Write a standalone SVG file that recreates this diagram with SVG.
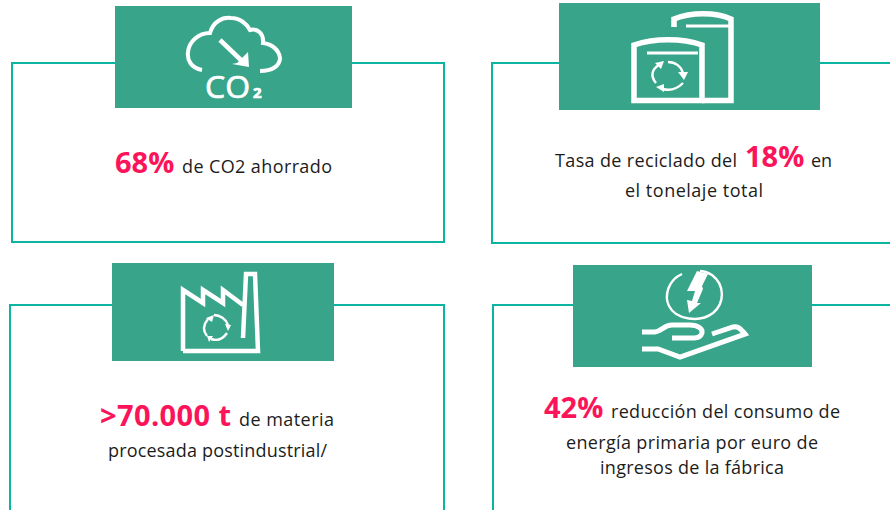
<svg xmlns="http://www.w3.org/2000/svg" width="890" height="510" viewBox="0 0 890 510">
<style>
.card{fill:none;stroke:#0cb5a2;stroke-width:2}
.head{fill:#38a58a}
.ic{fill:none;stroke:#fff;stroke-width:4.5;stroke-linejoin:miter}
.arc{fill:none;stroke:#fff;stroke-width:2.4}
.fine{fill:none;stroke:#fff;stroke-width:2.4}
.fw{fill:#fff}
text{font-family:"Open Sans","Liberation Sans",sans-serif;fill:#1c1c1c}
.t{font-size:18px}
.b{font-size:29px;font-weight:700;fill:#fb1459}
.w{fill:#fff;stroke:#fff;stroke-width:.7}
</style>
<rect width="890" height="510" fill="#fff"/>
<g id="connectors">
<path class="card" d="M115 63H12V242H444V63H352"/>
<path class="card" d="M559 63H492V243H890M820 63H890"/>
<path class="card" d="M112 305H10V510M444 510V305H334"/>
<path class="card" d="M573 305H493V510M812 305H890"/>
</g>
<g id="node-co2">
<rect class="head" x="115" y="6" width="237" height="102"/>
<path class="ic" style="stroke-width:4" d="M202 70C191 68 187 60 188 52C189 42 198 33 210 33C213 22 222 17 231 18C240 18 247 24 250 30C258 28 264 34 263 43C272 44 279 50 280 58C280 66 272 71 260 71"/>
<path class="ic" d="M220 40L243 62"/>
<path class="fw" d="M249 67L248 52L243 57L237 63L232 64Z"/>
<text x="205" y="98" class="w" font-size="31" textLength="45" lengthAdjust="spacingAndGlyphs">CO</text>
<text x="253" y="98" class="w" font-size="15" font-weight="700">2</text>
<text x="115" y="173" class="b">68%</text>
<text x="182" y="173" class="t" textLength="150">de CO2 ahorrado</text>
</g>
<g id="node-recycling">
<rect class="head" x="559" y="3" width="261" height="107"/>
<path class="ic" style="stroke-width:5.5" d="M634 100.500V45C655 38 682 38 702 45V100.500Z"/>
<path class="ic" style="stroke-width:5.500" d="M674 27V19C692 12 715 12 731 19V100.500H702"/>
<path class="fine" style="stroke-width:3" d="M647 53H698M686 26H731"/>
<path class="arc" d="M656 83C650 76 652 69 659 65M668 62C675 62 681 66 683 73M683 83C677 89 670 91 663 89"/>
<path class="fw" d="M655 63L664 61L661 69ZM678 72L688 72L684 80ZM656 87L664 84L664 92Z"/>
<text x="555" y="167" class="t" textLength="182">Tasa de reciclado del</text>
<text x="745" y="167" class="b">18%</text>
<text x="811" y="167" class="t" textLength="21">en</text>
<text x="625" y="197" class="t" textLength="138">el tonelaje total</text>
</g>
<g id="node-factory">
<rect class="head" x="112" y="263" width="222" height="98"/>
<path class="ic" d="M183 351V290L203 303V290L223 303V290L243 305"/>
<path class="ic" d="M183 351H258L255 274H246L243 338"/>
<path class="arc" d="M208 319C203 325 203 331 207 336M214 315C220 315 226 319 228 325M227 333C223 339 217 341 211 339"/>
<path class="fw" d="M206 318L214 315L212 322ZM225 324L231 325L228 331ZM207 336L213 336L209 342Z"/>
<text x="100" y="426" class="b" textLength="131">&gt;70.000 t</text>
<text x="239" y="426" class="t" textLength="95">de materia</text>
<text x="108" y="457" class="t" textLength="219">procesada postindustrial/</text>
</g>
<g id="node-energy">
<rect class="head" x="573" y="265" width="239" height="102"/>
<path class="arc" d="M682 274C668 280 664 296 669 306C676 320 700 323 713 313C725 303 725 285 712 275C707 272 703 271 700 271"/>
<path class="fw" d="M697 271L708 274L702 286L703 289L697 303L701 303L689 313L687 300L692 301L695 291L687 291Z"/>
<path class="ic" style="stroke-width:5" d="M642 332H655C662 331 664 325 672 325H690C698 325 703 329 702 333C701 336 698 338 694 338H672"/>
<path class="ic" style="stroke-width:5" d="M712 334L733 327C737 326 739 327 745 334L680 357L658 349H642"/>
<text x="544" y="418" class="b">42%</text>
<text x="611" y="418" class="t" textLength="229">reducción del consumo de</text>
<text x="566" y="449" class="t" textLength="252">energía primaria por euro de</text>
<text x="600" y="474" class="t" textLength="184">ingresos de la fábrica</text>
</g>
</svg>
